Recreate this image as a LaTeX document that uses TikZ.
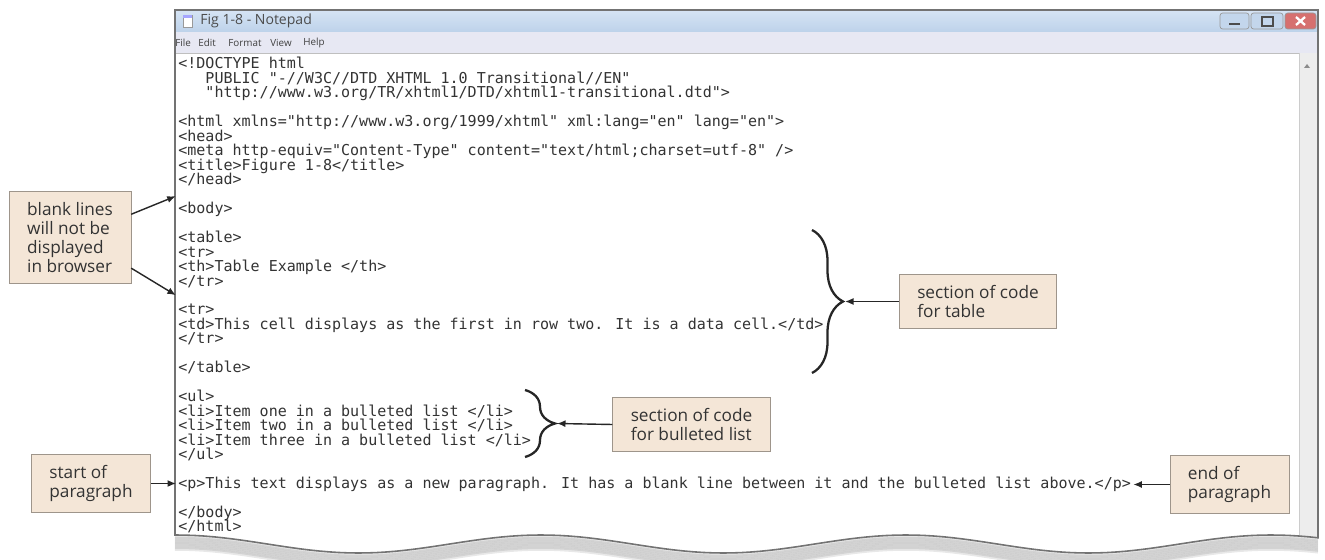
\documentclass[tikz,border=0pt]{standalone}
\usepackage{fontspec}
\setmainfont{Open Sans}
\newfontfamily\codefont{DejaVu Sans Mono}
\usetikzlibrary{arrows.meta,decorations.pathreplacing,calc}

\definecolor{calloutfill}{HTML}{F4E6D7}
\definecolor{calloutline}{HTML}{9E958B}
\definecolor{titletop}{HTML}{D6E4F4}
\definecolor{titlebot}{HTML}{BDD2EA}
\definecolor{menubg}{HTML}{E7E8F3}
\definecolor{closered}{HTML}{D6706F}
\definecolor{btnblue}{HTML}{C3D6EC}

% torn paper outline of the Notepad window
\newcommand{\paperoutline}{(175,10) -- (175,535) -- plot[domain=175:1318,samples=120] (\x,{544-9*cos((\x-176)/365*360)}) -- (1318,10) -- cycle}

\begin{document}
\begin{tikzpicture}[x=0.02cm, y=-0.02cm,
    callout/.style={draw=calloutline, fill=calloutfill, font=\fontsize{9.8}{10.8}\selectfont, text=black!80, align=left, inner xsep=0.36cm, inner ysep=0.22cm},
    codeline/.style={anchor=west, inner sep=0pt, font=\codefont\fontsize{8.55}{9}\selectfont, text=black!80, text height=6pt, text depth=1.5pt},
    menuitem/.style={anchor=west, inner sep=0pt, font=\fontsize{5.6}{6}\selectfont, text=black!75},
    pointer/.style={-{Latex[length=0.17cm,width=0.14cm]}, line width=0.8pt, draw=black!85},
    bracedec/.style={decorate, decoration={brace, amplitude=#1}, line width=1.3pt, draw=black!85}]

    \useasboundingbox (0,0) rectangle (1325,560);
    \fill[white] (0,0) rectangle (1325,560);

    % shadow under the torn edge
    \foreach \s in {1,...,8}
        \draw[black, opacity=0.09, line width=0.07cm, yshift=-\s*0.035cm] plot[domain=175:1318,samples=120] (\x,{544-9*cos((\x-176)/365*360)});

    % Window
    \fill[white] \paperoutline;
    \begin{scope}
        \clip \paperoutline;
        \shade[top color=titletop, bottom color=titlebot] (175,10) rectangle (1318,32);
        \fill[menubg] (175,32) rectangle (1318,53);
        \draw[black!25] (175,53) -- (1318,53);
        \fill[black!7] (1299,53) rectangle (1318,560);
        \draw[black!20] (1299,53) -- (1299,560);
    \end{scope}
    \draw[black!55, line width=0.9pt] \paperoutline;
    \fill[black!45] (1304,68) -- (1310,68) -- (1307,64) -- cycle;

    % Title bar
    \draw[black!40, fill=white] (183,15) rectangle (192,27);
    \fill[blue!35] (183,15) rectangle (192,18);
    \node[anchor=west, inner sep=0pt, font=\fontsize{8}{9}\selectfont, text=black!70] (wintitle) at (200,21) {Fig 1-8 - Notepad};
    \draw[black!40, fill=btnblue, rounded corners=1.5pt] (1220,13) rectangle (1249,29);
    \draw[black!40, fill=btnblue, rounded corners=1.5pt] (1251,13) rectangle (1283,29);
    \draw[black!40, fill=closered, rounded corners=1.5pt] (1285,13) rectangle (1316,29);
    \draw[black!70, line width=1pt] (1229,24) -- (1240,24);
    \draw[black!70, line width=0.6pt] (1262,17) rectangle (1273,26);
    \draw[white, line width=1.3pt] (1296,17) -- (1305,25) (1296,25) -- (1305,17);

    % Menu bar
    \foreach \m/\xx in {File/175, Edit/198, Format/228, View/270, Help/303}
        \node[menuitem] (menu\m) at (\xx,43) {\m};

    % Code
    \foreach \cl [count=\i] in {
        {<!DOCTYPE html},
        {\ \ \ PUBLIC "-//W3C//DTD XHTML 1.0 Transitional//EN"},
        {\ \ \ "http://www.w3.org/TR/xhtml1/DTD/xhtml1-transitional.dtd">},
        {},
        {<html xmlns="http://www.w3.org/1999/xhtml" xml:lang="en" lang="en">},
        {<head>},
        {<meta http-equiv="Content-Type" content="text/html;charset=utf-8" />},
        {<title>Figure 1-8</title>},
        {</head>},
        {},
        {<body>},
        {},
        {<table>},
        {<tr>},
        {<th>Table Example </th>},
        {</tr>},
        {},
        {<tr>},
        {<td>This cell displays as the first in row two. It is a data cell.</td>},
        {</tr>},
        {},
        {</table>},
        {},
        {<ul>},
        {<li>Item one in a bulleted list </li>},
        {<li>Item two in a bulleted list </li>},
        {<li>Item three in a bulleted list </li>},
        {</ul>},
        {},
        {<p>This text displays as a new paragraph. It has a blank line between it and the bulleted list above.</p>},
        {},
        {</body>},
        {</html>}}
        \node[codeline] (l\i) at (178,{65+14.47*(\i-1)}) {\cl};

    % Braces
    \draw[bracedec=0.62cm] (812,230) -- (812,373);
    \coordinate (tbtip) at (845,301.5);
    \draw[bracedec=0.6cm] (525,390) -- (525,457);
    \coordinate (lbtip) at (557,423.5);

    % Callouts
    \node[callout] (blank) at (70,237.5) {blank lines\\will not be\\displayed\\in browser};
    \node[callout] (tabsec) at (978,301.5) {section of code\\for table};
    \node[callout] (listsec) at (691.5,424.5) {section of code\\for bulleted list};
    \node[callout] (startp) at (91,483.5) {start of\\paragraph};
    \node[callout] (endp) at (1229.5,484.5) {end of\\paragraph};

    % Arrows
    \draw[pointer, shorten >=0.05cm] ($(blank.north east)!0.25!(blank.south east)$) -- (l10.west);
    \draw[pointer, shorten >=0.05cm] ($(blank.north east)!0.83!(blank.south east)$) -- (l17.west);
    \draw[pointer, shorten >=0.04cm] (startp.east) -- (startp.east -| l30.west);
    \draw[pointer, shorten >=0.04cm] (endp.west) -- (endp.west -| l30.east);
    \draw[pointer] (tabsec.west) -- (tbtip);
    \draw[pointer] (listsec.west) -- (lbtip);

\end{tikzpicture}
\end{document}
